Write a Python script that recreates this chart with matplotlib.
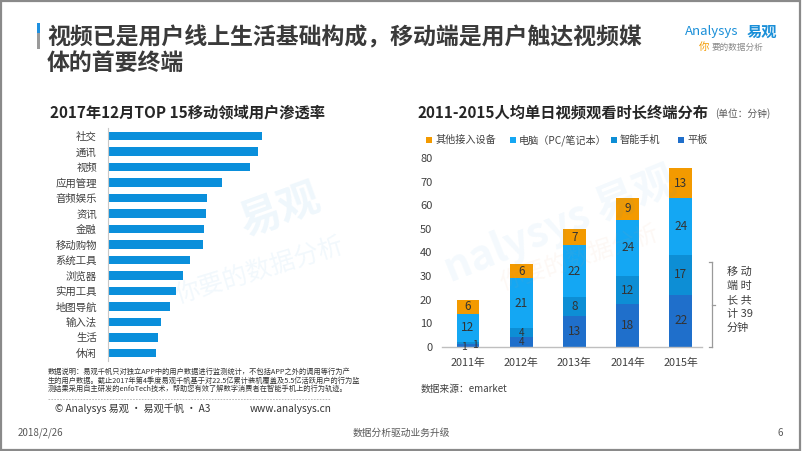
import matplotlib
matplotlib.use("Agg")
import matplotlib.pyplot as plt
from matplotlib.patches import Rectangle
from matplotlib.lines import Line2D

plt.rcParams['font.family'] = ['Noto Sans CJK SC', 'DejaVu Sans']

# ---------------- data ----------------
left_title = "2017年12月TOP 15移动领域用户渗透率"
left_categories = ["社交", "通讯", "视频", "应用管理", "音频娱乐", "资讯", "金融", "移动购物",
                   "系统工具", "浏览器", "实用工具", "地图导航", "输入法", "生活", "休闲"]
# relative penetration (no axis scale shown in the reference)
left_values = [154, 150, 142, 114, 99, 98, 96, 95, 82, 75, 68, 62, 53, 50, 48]

right_title = "2011-2015人均单日视频观看时长终端分布"
right_unit = "(单位：分钟)"
years = ["2011年", "2012年", "2013年", "2014年", "2015年"]
tablet = [1, 4, 13, 18, 22]
phone = [1, 4, 8, 12, 17]
pc = [12, 21, 22, 24, 24]
other = [6, 6, 7, 9, 13]
series_names = ["平板", "智能手机", "电脑（PC/笔记本）", "其他接入设备"]
y_ticks = [0, 10, 20, 30, 40, 50, 60, 70, 80]
bracket_lines = ["移 动", "端 时", "长 共", "计 39", "分钟"]

main_title = ["视频已是用户线上生活基础构成，移动端是用户触达视频媒", "体的首要终端"]
footnote = ["数据说明：易观千帆只对独立APP中的用户数据进行监测统计，不包括APP之外的调用等行为产",
            "生的用户数据。截止2017年第4季度易观千帆基于对22.5亿累计装机覆盖及5.5亿活跃用户的行为监",
            "测结果采用自主研发的enfoTech技术，帮助您有效了解数字消费者在智能手机上的行为轨迹。"]

# ---------------- styles ----------------
W, H = 802, 451
C_LEFT = "#0A8FDB"
C_TAB = "#1F6FCB"
C_PHONE = "#0D8ED5"
C_PC = "#14A7F3"
C_OTHER = "#F39A00"
TXT = "#404040"

fig = plt.figure(figsize=(W / 100, H / 100), dpi=100)
fig.patch.set_facecolor("white")


def fx(x):
    return x / W


def fy(y):
    return 1 - y / H


def ax_rect(l, t, r, b):
    return [fx(l), fy(b), (r - l) / W, (b - t) / H]


def ftext(x, y, s, **kw):
    kw.setdefault("va", "center")
    kw.setdefault("ha", "left")
    return fig.text(fx(x), fy(y), s, **kw)


# frame
fig.patches.append(Rectangle((0.001, 0.002), 0.997, 0.996, transform=fig.transFigure,
                             fill=False, edgecolor="#8a8a8a", linewidth=1.6))

# main title + accent bar
fig.patches.append(Rectangle((fx(37), fy(33)), 3 / W, 10 / H, transform=fig.transFigure,
                             facecolor="#1E90E0", edgecolor="none"))
fig.patches.append(Rectangle((fx(37), fy(49)), 3 / W, 16 / H, transform=fig.transFigure,
                             facecolor="#9a9a9a", edgecolor="none"))
ftext(47, 38, main_title[0], fontsize=16.5, fontweight="bold", color="#3a3a3a")
ftext(47, 63, main_title[1], fontsize=16.5, fontweight="bold", color="#3a3a3a")

# logo
ftext(685, 32, "Analysys", fontsize=9.5, color="#1a8fd8")
ftext(747, 32, "易观", fontsize=11, color="#1a8fd8", fontweight="bold")
ftext(699, 47, "你", fontsize=7.5, color="#F39A00")
ftext(712, 47, "要的数据分析", fontsize=6.2, color="#8a8a8a")

# ---------------- left chart ----------------
axl = fig.add_axes(ax_rect(108, 128.25, 400, 360.75))
yl = list(range(len(left_categories)))
axl.barh(yl, left_values, height=0.55, color=C_LEFT, zorder=2)
axl.set_ylim(len(left_categories) - 0.5, -0.5)
axl.set_xlim(0, 292)
axl.set_yticks(yl)
axl.set_yticklabels(left_categories, fontsize=7.5, color=TXT)
axl.tick_params(axis="y", length=0, pad=8)
axl.set_xticks([])
for s in ["top", "right", "bottom"]:
    axl.spines[s].set_visible(False)
axl.spines["left"].set_color("#c8c8c8")
axl.spines["left"].set_linewidth(0.8)
axl.patch.set_alpha(0)
ftext(187, 113, left_title, fontsize=11, fontweight="bold", color="#262626", ha="center")

# ---------------- right chart ----------------
axr = fig.add_axes(ax_rect(442, 158.3, 702, 346.7))
xr = list(range(len(years)))
bw = 0.43
b0 = [0] * len(years)
b1 = [a for a in tablet]
b2 = [a + b for a, b in zip(tablet, phone)]
b3 = [a + b + c for a, b, c in zip(tablet, phone, pc)]
axr.bar(xr, tablet, bw, bottom=b0, color=C_TAB, zorder=2)
axr.bar(xr, phone, bw, bottom=b1, color=C_PHONE, zorder=2)
axr.bar(xr, pc, bw, bottom=b2, color=C_PC, zorder=2)
axr.bar(xr, other, bw, bottom=b3, color=C_OTHER, zorder=2)
axr.set_xlim(-0.49, 4.4)
axr.set_ylim(0, 80)
axr.set_yticks(y_ticks)
axr.set_yticklabels([str(v) for v in y_ticks], fontsize=8, color=TXT)
axr.tick_params(axis="y", length=0, pad=7)
axr.set_xticks(xr)
axr.set_xticklabels(years, fontsize=7.8, color=TXT)
axr.tick_params(axis="x", length=0, pad=8)
for s in ["top", "right", "left"]:
    axr.spines[s].set_visible(False)
axr.spines["bottom"].set_color("#bfbfbf")
axr.spines["bottom"].set_linewidth(1.0)
axr.patch.set_alpha(0)

for i in xr:
    segs = [(tablet[i], b0[i], -3.0), (phone[i], b1[i], 5.0), (pc[i], b2[i], 0), (other[i], b3[i], 0)]
    for k, (v, base, dx) in enumerate(segs):
        if v < 2:
            axr.annotate(str(v), (i, base + v / 2), xytext=(dx, -1), textcoords="offset points",
                         ha="center", va="center", fontsize=7.5, color="#333333", zorder=4)
        elif v < 5:
            axr.text(i, base + v / 2, str(v), ha="center", va="center", fontsize=7.2,
                     color="#333333", zorder=4)
        else:
            axr.text(i, base + v / 2, str(v), ha="center", va="center", fontsize=8.5,
                     color="#333333", zorder=4)

ftext(417, 113, right_title, fontsize=11, fontweight="bold", color="#262626")
ftext(715, 114, right_unit, fontsize=7, color="#595959")

# legend
legend_items = [(429, "其他接入设备", C_OTHER), (513, series_names[2], C_PC),
                (614, series_names[1], C_PHONE), (681, series_names[0], C_TAB)]
for x, name, col in legend_items:
    fig.patches.append(Rectangle((fx(x - 3), fy(143)), 6 / W, 6 / H, transform=fig.transFigure,
                                 facecolor=col, edgecolor="none"))
    ftext(x + 6, 140, name, fontsize=7.3, color=TXT)

# bracket
bc = "#9a9a9a"
for seg in [((712, 712), (262, 347)), ((709, 712), (262, 262)), ((709, 712), (347, 347)),
            ((712, 715), (305, 305))]:
    fig.add_artist(Line2D([fx(seg[0][0]), fx(seg[0][1])], [fy(seg[1][0]), fy(seg[1][1])],
                          transform=fig.transFigure, color=bc, linewidth=0.9))
for j, line in enumerate(bracket_lines):
    ftext(727, 272 + j * 14, line, fontsize=8, color=TXT)

ftext(421, 389, "数据来源：emarket", fontsize=7, color=TXT)

# watermarks
wm = "#1a8fd8"
ftext(280, 210, "易观", fontsize=30, color=wm, alpha=0.07, ha="center", rotation=20, fontweight="bold")
ftext(260, 270, "你要的数据分析", fontsize=18, color=wm, alpha=0.06, ha="center", rotation=17)
ftext(560, 225, "nalysys 易观", fontsize=30, color=wm, alpha=0.05, ha="center", rotation=22, fontweight="bold")
ftext(580, 258, "你要的数据分析", fontsize=17, color="#e8a070", alpha=0.07, ha="center", rotation=18)

# footnote
for j, line in enumerate(footnote):
    ftext(48, 372 + j * 8.5, line, fontsize=5.2, color="#333333")
fig.add_artist(Line2D([fx(48), fx(330)], [fy(399), fy(399)], transform=fig.transFigure,
                      color="#b0b0b0", linewidth=0.6, linestyle=(0, (2, 1.5))))
ftext(55, 409, "© Analysys 易观 · 易观千帆 · A3", fontsize=7.3, color="#333333")
ftext(250, 409, "www.analysys.cn", fontsize=7.3, color="#333333")

# page footer
ftext(18, 433, "2018/2/26", fontsize=7, color="#595959")
ftext(401, 433, "数据分析驱动业务升级", fontsize=7, color="#595959", ha="center")
ftext(777, 433, "6", fontsize=7, color="#595959")

fig.savefig("out.png", dpi=100, facecolor="white")
